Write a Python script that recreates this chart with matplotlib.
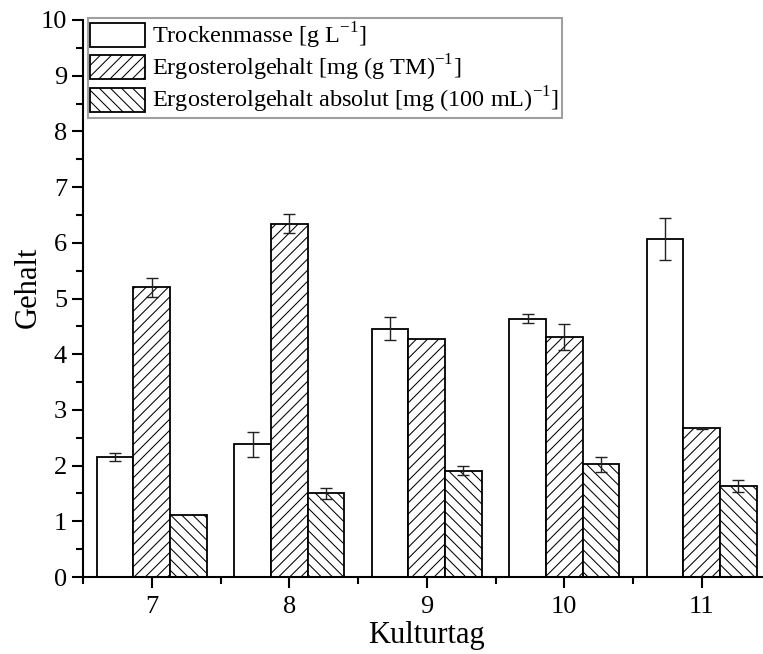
import matplotlib
matplotlib.use("Agg")
import matplotlib.pyplot as plt
import numpy as np
from matplotlib.ticker import MultipleLocator
from matplotlib.patches import Patch

days = [7, 8, 9, 10, 11]
trockenmasse = [2.15, 2.38, 4.46, 4.64, 6.07]
trockenmasse_err = [0.07, 0.22, 0.20, 0.08, 0.38]
ergosterol = [5.20, 6.34, 4.27, 4.31, 2.67]
ergosterol_err = [0.17, 0.17, 0.0, 0.24, 0.01]
ergosterol_abs = [1.12, 1.50, 1.91, 2.02, 1.63]
ergosterol_abs_err = [0.0, 0.10, 0.08, 0.14, 0.11]
labels = ["Trockenmasse [g L$^{\\mathregular{-1}}$]",
          "Ergosterolgehalt [mg (g TM)$^{\\mathregular{-1}}$]",
          "Ergosterolgehalt absolut [mg (100 mL)$^{\\mathregular{-1}}$]"]

plt.rcParams['font.family'] = ['Liberation Serif', 'DejaVu Serif']
plt.rcParams['hatch.color'] = '#555555'
plt.rcParams['hatch.linewidth'] = 0.75

fig = plt.figure(figsize=(7.63, 6.54), dpi=100)
ax = fig.add_axes([83/763, 1-577/654, (770.5-83)/763, 557/654])

x = np.array(days, dtype=float)
w = 0.267
series = [(trockenmasse, trockenmasse_err, ''), (ergosterol, ergosterol_err, '///'),
          (ergosterol_abs, ergosterol_abs_err, '\\\\\\')]
for i, (vals, errs, hatch) in enumerate(series):
    pos = x + (i - 1) * w
    ax.bar(pos, vals, width=w, color='white', edgecolor='black', linewidth=1.3,
           hatch=hatch, zorder=2)
    e = np.array(errs)
    mask = e > 0
    ax.errorbar(pos[mask], np.array(vals)[mask], yerr=e[mask], fmt='none',
                ecolor='#222222', elinewidth=1.0, capsize=4, capthick=1.0, zorder=3)

ax.set_xlim(6.5, 11.5)
ax.set_ylim(0, 10)
ax.set_xticks(days)
ax.xaxis.set_minor_locator(MultipleLocator(0.5))
ax.yaxis.set_major_locator(MultipleLocator(1))
ax.yaxis.set_minor_locator(MultipleLocator(0.5))
ax.tick_params(axis='both', which='major', direction='out', length=8, width=1.5,
               labelsize=19)
ax.tick_params(axis='both', which='minor', direction='out', length=5, width=1.5)
ax.tick_params(axis='x', which='major', pad=6)
ax.spines['top'].set_visible(False)
ax.spines['right'].set_visible(False)
ax.spines['left'].set_linewidth(1.5)
ax.spines['bottom'].set_linewidth(1.5)

ax.set_xlabel('Kulturtag', fontsize=22, labelpad=2)
ax.set_ylabel('Gehalt', fontsize=22)
ax.yaxis.set_label_coords(-0.058, 0.52)

handles = [Patch(facecolor='white', edgecolor='black', hatch=h, linewidth=1.3)
           for h in ['', '///', '\\\\\\']]
leg = ax.legend(handles, labels, loc='upper left', bbox_to_anchor=(0.0, 1.012),
                fontsize=17.5, frameon=True, fancybox=False, edgecolor='#888888',
                handlelength=2.25, handleheight=1.15, handletextpad=0.3,
                borderpad=0.1, labelspacing=0.08, borderaxespad=0.2)
leg.get_frame().set_linewidth(1.5)

fig.savefig('out.png', dpi=100)
